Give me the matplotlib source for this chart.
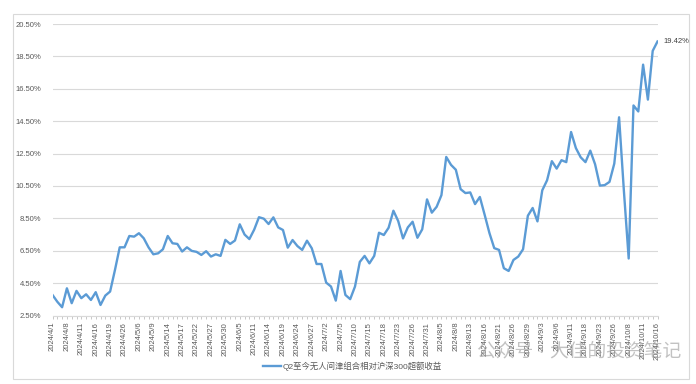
import matplotlib
matplotlib.use("Agg")
import matplotlib.pyplot as plt
from matplotlib.patches import Rectangle

OUT_PLOT = "out.png"

SERIES_NAME = "Q2至今无人间津组合相对沪深300超额收益"

# excess return (%) per trading day, 2024/4/1 .. 2024/10/16
excess_return = [
    3.77, 3.35, 3.01, 4.18, 3.26, 4.02, 3.57, 3.81, 3.46, 3.94,
    3.15, 3.73, 3.98, 5.30, 6.71, 6.71, 7.41, 7.37, 7.58, 7.27,
    6.71, 6.28, 6.34, 6.59, 7.41, 6.96, 6.92, 6.45, 6.71, 6.49,
    6.43, 6.24, 6.47, 6.14, 6.28, 6.18, 7.17, 6.92, 7.13, 8.13,
    7.50, 7.22, 7.80, 8.57, 8.48, 8.15, 8.56, 7.94, 7.78, 6.69,
    7.16, 6.79, 6.55, 7.12, 6.65, 5.68, 5.68, 4.53, 4.29, 3.42,
    5.25, 3.77, 3.51, 4.29, 5.81, 6.18, 5.72, 6.18, 7.61, 7.47,
    7.92, 8.97, 8.33, 7.26, 7.94, 8.29, 7.30, 7.82, 9.67, 8.85,
    9.21, 9.93, 12.29, 11.80, 11.50, 10.30, 10.06, 10.10, 9.38, 9.82,
    8.72, 7.59, 6.66, 6.55, 5.42, 5.25, 5.93, 6.14, 6.59, 8.66,
    9.14, 8.31, 10.23, 10.85, 12.03, 11.57, 12.09, 11.97, 13.83, 12.84,
    12.27, 11.97, 12.68, 11.84, 10.52, 10.55, 10.75, 11.88, 14.74, 10.20,
    6.02, 15.47, 15.10, 17.99, 15.83, 18.84, 19.42,
]

# labels shown on every 3rd trading day
tick_labels = [
    "2024/4/1", "2024/4/8", "2024/4/11", "2024/4/16", "2024/4/19", "2024/4/26",
    "2024/5/6", "2024/5/9", "2024/5/14", "2024/5/17", "2024/5/22", "2024/5/27",
    "2024/5/30", "2024/6/5", "2024/6/11", "2024/6/14", "2024/6/19", "2024/6/24",
    "2024/6/27", "2024/7/2", "2024/7/5", "2024/7/10", "2024/7/15", "2024/7/18",
    "2024/7/23", "2024/7/26", "2024/7/31", "2024/8/5", "2024/8/8", "2024/8/13",
    "2024/8/16", "2024/8/21", "2024/8/26", "2024/8/29", "2024/9/3", "2024/9/6",
    "2024/9/11", "2024/9/18", "2024/9/23", "2024/9/26", "2024/10/8", "2024/10/11",
    "2024/10/16",
]
tick_step = 3

y_ticks = [2.5, 4.5, 6.5, 8.5, 10.5, 12.5, 14.5, 16.5, 18.5, 20.5]

LINE_COLOR = "#5b9bd5"
GRID_COLOR = "#d9d9d9"
TEXT_COLOR = "#595959"


def plot_excess(out_file):
    plt.rcParams["font.family"] = ["Liberation Sans", "Noto Sans CJK SC", "DejaVu Sans"]

    fig = plt.figure(figsize=(6.96, 3.84), dpi=100)
    ax = fig.add_axes([52.5 / 696, 1 - 315.5 / 384, 605 / 696, 291.5 / 384])

    x = list(range(len(excess_return)))
    ax.plot(x, excess_return, color=LINE_COLOR, lw=1.7, label=SERIES_NAME,
            solid_joinstyle="round")

    ax.set_xlim(0, len(excess_return) - 1)
    ax.set_ylim(y_ticks[0], y_ticks[-1])

    ax.set_yticks(y_ticks)
    ax.set_yticklabels([f"{v:.2f}%" for v in y_ticks])
    ax.set_xticks(x[::tick_step])
    ax.set_xticklabels(tick_labels, rotation=90, va="top", ha="center")
    ax.set_xticks(x, minor=True)

    ax.grid(axis="y", color=GRID_COLOR, lw=0.8)
    ax.set_axisbelow(True)
    for side in ["top", "right", "left"]:
        ax.spines[side].set_visible(False)
    ax.spines["bottom"].set_color(GRID_COLOR)
    ax.spines["bottom"].set_linewidth(0.8)

    ax.tick_params(axis="y", length=0, pad=8, labelsize=5.5, labelcolor=TEXT_COLOR)
    ax.tick_params(axis="x", which="both", length=2.5, color="#bfbfbf", width=0.6,
                   pad=2, labelsize=5.5, labelcolor=TEXT_COLOR)

    ax.annotate(f"{excess_return[-1]:.2f}%", xy=(x[-1], excess_return[-1]),
                xytext=(4, 0), textcoords="offset points", va="center",
                fontsize=5.5, color="#404040", annotation_clip=False)

    fig.legend(loc="center", bbox_to_anchor=(0.506, 0.047), frameon=False,
               fontsize=6, handlelength=2.2, handletextpad=0.2, labelcolor=TEXT_COLOR)

    # chart area border
    fig.patches.append(Rectangle((13 / 696, 5 / 384), 676 / 696, 365 / 384,
                                 transform=fig.transFigure, fill=False,
                                 edgecolor=GRID_COLOR, lw=0.8))

    # watermark
    fig.text(0.685, 0.083, "公众号 · 大佳的投资笔记", fontsize=13.5, color="#9a9a9a",
             alpha=0.6, va="center", ha="left")

    fig.savefig(out_file, dpi=100, facecolor="white")
    plt.close(fig)
    print(f"Saved: {out_file}")


def main():
    plot_excess(OUT_PLOT)


if __name__ == "__main__":
    main()
